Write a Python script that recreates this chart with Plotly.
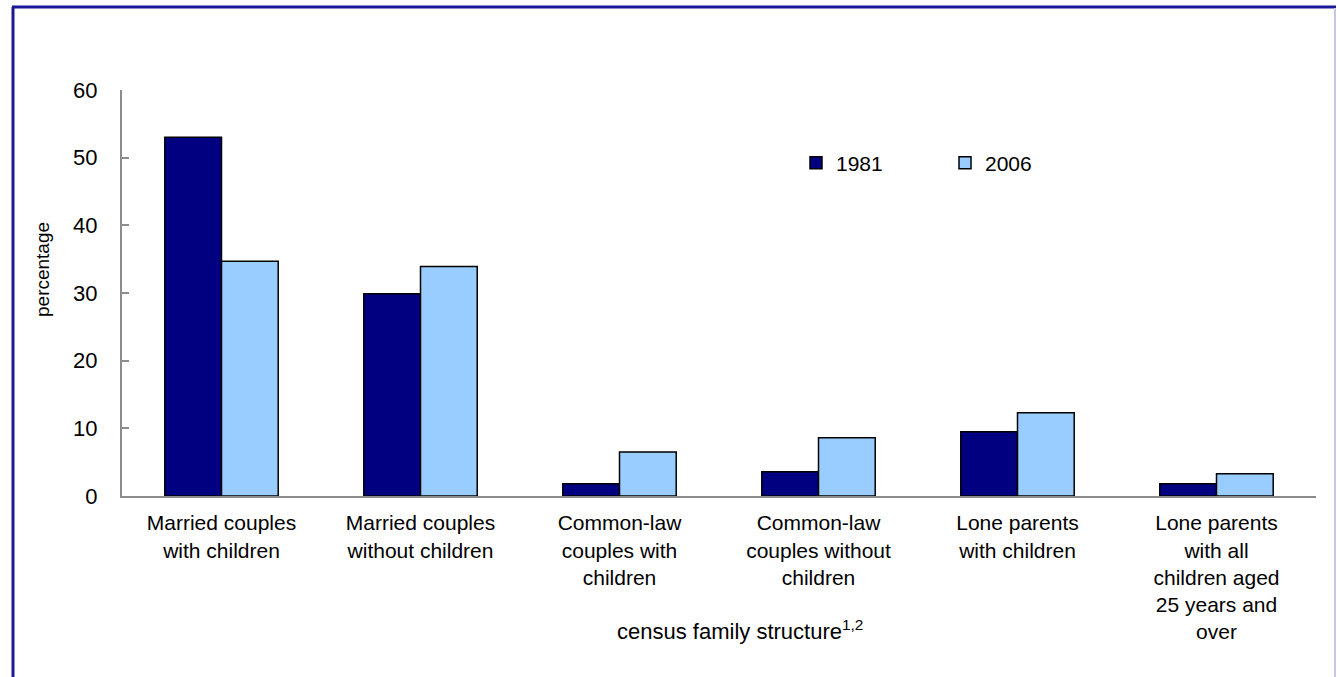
import plotly.graph_objects as go

categories = [
    "Married couples with children",
    "Married couples without children",
    "Common-law couples with children",
    "Common-law couples without children",
    "Lone parents with children",
    "Lone parents with all children aged 25 years and over",
]
tick_labels = [
    "Married couples<br>with children",
    "Married couples<br>without children",
    "Common-law<br>couples with<br>children",
    "Common-law<br>couples without<br>children",
    "Lone parents<br>with children",
    "Lone parents<br>with all<br>children aged<br>25 years and<br>over",
]
values_1981 = [53.0, 29.9, 1.8, 3.6, 9.5, 1.8]
values_2006 = [34.7, 33.9, 6.5, 8.6, 12.3, 3.3]

W, H = 1337, 677
M_L, M_R, M_T, M_B = 122, 21, 90, 181
PW, PH = W - M_L - M_R, H - M_T - M_B
FONT = "Liberation Sans, Arial, sans-serif"


def px_x(x):
    return (x - M_L) / PW


def px_y(y):
    return (H - M_B - y) / PH


fig = go.Figure()
fig.add_trace(go.Bar(
    name="1981", x=categories, y=values_1981,
    marker=dict(color="#000080", line=dict(color="black", width=1.5)),
))
fig.add_trace(go.Bar(
    name="2006", x=categories, y=values_2006,
    marker=dict(color="#99CCFF", line=dict(color="black", width=1.5)),
))

fig.update_layout(
    width=W, height=H,
    margin=dict(l=M_L, r=M_R, t=M_T, b=M_B),
    paper_bgcolor="white", plot_bgcolor="white",
    barmode="group", bargap=0.43, bargroupgap=0,
    font=dict(family=FONT, size=21, color="black"),
    showlegend=True,
    legend=dict(
        orientation="h", x=px_x(796), y=px_y(163),
        xanchor="left", yanchor="middle",
        entrywidth=104, entrywidthmode="pixels",
        font=dict(size=21), bgcolor="rgba(0,0,0,0)",
        itemclick=False,
    ),
    xaxis=dict(
        tickmode="array", tickvals=categories, ticktext=tick_labels,
        showline=True, linecolor="#8c8c8c", linewidth=2,
        ticks="", showgrid=False, zeroline=False,
        tickfont=dict(size=21), ticklabelstandoff=7,
    ),
    yaxis=dict(
        range=[0, 60], dtick=10, tickmode="linear",
        showline=True, linecolor="#8c8c8c", linewidth=2,
        ticks="inside", ticklen=7, tickwidth=2, tickcolor="#8c8c8c",
        showgrid=False, zeroline=False,
        tickfont=dict(size=22), ticklabelstandoff=18,
    ),
    annotations=[
        dict(text="percentage", xref="paper", yref="paper",
             x=px_x(42), y=px_y(270), textangle=-90, showarrow=False,
             font=dict(size=19), xanchor="center", yanchor="middle"),
        dict(text="census family structure<sup>1,2</sup>", xref="paper", yref="paper",
             x=px_x(740), y=px_y(630), showarrow=False,
             font=dict(size=22), xanchor="center", yanchor="middle"),
    ],
    shapes=[
        dict(type="line", xref="paper", yref="paper",
             x0=px_x(12), x1=px_x(1336), y0=px_y(7), y1=px_y(7),
             line=dict(color="#1a1a99", width=3)),
        dict(type="line", xref="paper", yref="paper",
             x0=px_x(13), x1=px_x(13), y0=px_y(7), y1=px_y(680),
             line=dict(color="#1a1a99", width=3)),
        dict(type="line", xref="paper", yref="paper",
             x0=px_x(1335), x1=px_x(1335), y0=px_y(8), y1=px_y(680),
             line=dict(color="#c8c8e6", width=2)),
    ],
)

# drop the page's default 8px body margin so the figure sits at (0, 0)
fig.write_html(
    "out.html",
    config={"displayModeBar": False},
    post_script="document.body.style.margin='0';",
)
